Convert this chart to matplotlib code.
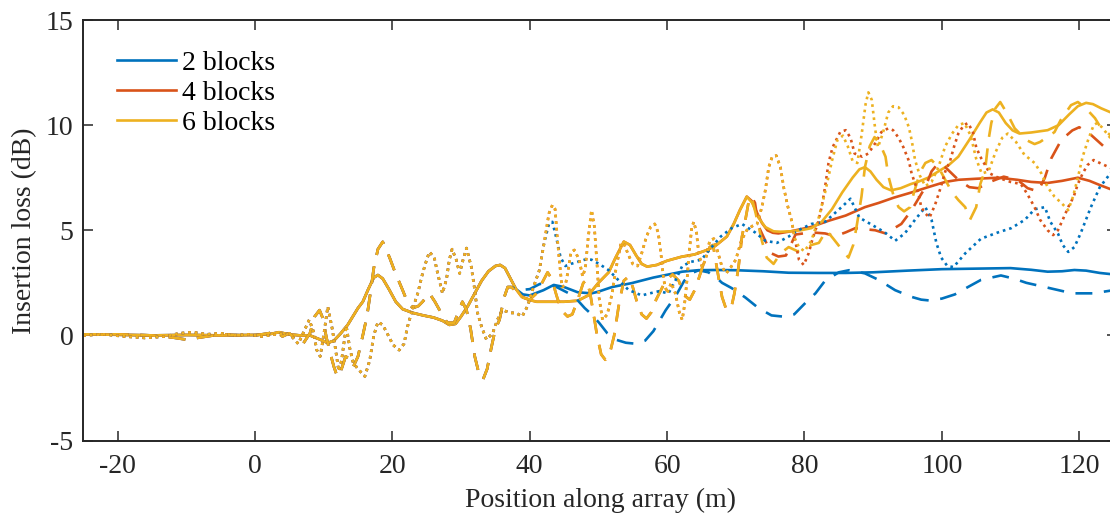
import matplotlib
matplotlib.use('Agg')
import matplotlib.pyplot as plt

# ---- Data ----
# Colours = number of blocks, line style = separate series.
# Curves are identical before the blocks start, so each style has a shared
# start section, then per-colour tails.

# solid, shared by all three
solid_base_x = [-25, -20, -15, -10, -5, 0, 2, 3.5, 5, 6.5, 8, 9.5, 10.6, 11.5, 12.5, 13.5,
                15, 15.7, 16.5, 17.3, 17.9, 18.6, 19.5, 20.5, 21.5, 23, 24.5, 26, 27.3,
                28.3, 29.2, 30, 31, 32, 33, 34, 35, 35.7, 36.4]
solid_base_y = [0.05, 0.03, 0.0, 0.02, 0.0, 0.02, 0.05, 0.15, 0.05, 0.0, 0.0, -0.2, -0.36,
                -0.25, 0.1, 0.5, 1.3, 1.6, 2.2, 2.75, 2.87, 2.7, 2.2, 1.6, 1.25, 1.07, 0.95,
                0.85, 0.7, 0.5, 0.55, 0.9, 1.4, 2.0, 2.6, 3.05, 3.3, 3.35, 3.2]
solid_blue_x = [37.2, 38, 39, 40, 42, 43.5, 45, 47, 49, 50, 52, 54.9, 58, 62.2, 64.5, 67.1,
                70, 74, 77.7, 82, 86, 90, 95, 100, 106, 110, 113, 115.4, 117.5, 119.3, 121,
                123, 125]
solid_blue_y = [2.7, 2.2, 1.95, 1.9, 2.15, 2.4, 2.3, 2.05, 2.0, 2.08, 2.3, 2.49, 2.75, 3.03,
                3.1, 3.11, 3.1, 3.05, 2.98, 2.97, 2.97, 3.0, 3.08, 3.15, 3.18, 3.2, 3.12,
                3.03, 3.05, 3.11, 3.08, 2.97, 2.9]
solid_oy_x = [37.2, 38, 38.8, 39.9, 41, 43, 45, 47, 48.5, 50, 51.5, 52.5, 53.7, 54.6, 55.5,
              56.3, 57.1, 58.5, 60, 62.1, 64, 65.8, 67, 68.7, 69.7, 70.6, 71.6]
solid_oy_y = [2.7, 2.2, 1.85, 1.69, 1.6, 1.6, 1.6, 1.65, 1.9, 2.5, 3.0, 3.7, 4.46, 4.3, 3.8,
              3.4, 3.27, 3.35, 3.55, 3.74, 3.85, 4.06, 4.25, 4.7, 5.3, 5.96, 6.6]
solid_orange_x = [72.3, 73, 73.8, 74.6, 75.4, 76.2, 78, 81, 83.5, 86, 88.8, 90.8, 93, 95.6,
                  98, 100.5, 102.4, 105, 108.2, 111, 113, 115.4, 117.5, 119.8, 121.5, 123, 125]
solid_orange_y = [6.4, 5.9, 5.35, 5.0, 4.88, 4.85, 4.95, 5.16, 5.45, 5.7, 6.1, 6.3, 6.55, 6.8,
                  7.05, 7.3, 7.4, 7.45, 7.5, 7.4, 7.3, 7.25, 7.35, 7.5, 7.35, 7.15, 6.9]
solid_yellow_x = [72.4, 73.3, 74.3, 75.5, 76.5, 78, 79.5, 81, 82.5, 84, 85.5, 87, 88, 88.8,
                  89.6, 90.5, 91.5, 92.6, 94, 95.5, 96.5, 98, 99.5, 101, 102.4, 104, 105.5,
                  106.5, 107.4, 108.3, 109.3, 110.3, 111.3, 113, 115.4, 117, 118.5, 119.8,
                  121, 122, 123.2, 125]
solid_yellow_y = [6.3, 5.6, 5.15, 4.95, 4.93, 4.95, 5.0, 5.1, 5.4, 6.0, 6.8, 7.5, 7.9, 8.0,
                  7.8, 7.4, 7.05, 6.9, 7.0, 7.2, 7.3, 7.5, 7.8, 8.1, 8.5, 9.3, 10.1, 10.6,
                  10.75, 10.6, 10.1, 9.75, 9.6, 9.65, 9.76, 10.0, 10.5, 10.9, 11.06, 11.0,
                  10.8, 10.55]

# dashed, shared by all three
dash_base_x = [-25, -20, -15, -12, -10, -8, -5, -2, 0, 2, 3, 4, 5, 6, 7, 8, 8.7, 9.4, 9.9,
               10.4, 11, 11.5, 12, 12.6, 13.2, 13.7, 14.3, 15, 15.7, 16.3, 16.8, 17.3, 17.9,
               18.6, 19.6, 20.4, 21.5, 22.3, 23, 23.8, 24.4, 25.4, 26.2, 27.1, 28, 29, 29.6,
               30.2, 30.8, 31.4, 32, 32.6, 33.2, 33.8, 34.4, 35, 35.6, 36.3, 36.8]
dash_base_y = [0.05, 0.05, 0.0, -0.1, -0.2, -0.1, 0.05, 0.0, 0.0, 0.1, 0.2, -0.05, 0.1, -0.2,
               -0.4, 0.1, 0.9, 1.2, 0.8, -0.1, -0.9, -1.5, -1.97, -1.6, -1.0, -1.1, -1.5,
               -1.0, 0.0, 0.9, 2.0, 3.2, 4.1, 4.45, 3.7, 3.0, 2.15, 1.5, 1.3, 1.4, 1.6, 2.0,
               1.6, 1.07, 0.6, 0.6, 1.1, 1.6, 1.2, 0.3, -1.0, -1.8, -2.1, -1.6, -0.6, 0.3,
               0.74, 1.83, 2.3]
dash_blue_x = [37.3, 38.5, 40, 41.5, 43.3, 44.5, 45.7, 46.9, 48, 49, 50.1, 51.3, 52.5, 54,
               55.5, 56.8, 58, 59.8, 61.3, 62.5, 63.5, 64.6, 66, 67, 68, 69.4, 71.4, 73.3,
               75.2, 77.3, 78.5, 80, 81.6, 83, 85, 86.5, 88.8, 90.8, 93.2, 95.6, 97, 98.2,
               100, 101.9, 103.8, 105.7, 108.6, 110.5, 112.3, 115, 117, 119, 122, 125]
dash_blue_y = [2.3, 2.15, 2.2, 2.45, 2.4, 2.2, 2.0, 1.7, 1.3, 1.0, 0.6, 0.1, -0.2, -0.35,
               -0.4, -0.25, 0.2, 1.2, 1.9, 2.6, 2.95, 3.1, 3.0, 2.8, 2.5, 2.25, 1.8, 1.3,
               0.95, 0.88, 1.0, 1.5, 2.0, 2.6, 3.0, 3.1, 2.95, 2.64, 2.15, 1.83, 1.7, 1.66,
               1.75, 1.95, 2.3, 2.64, 2.85, 2.7, 2.5, 2.3, 2.15, 2.0, 2.0, 2.15]
dash_oy_x = [37.3, 38, 39, 40, 41, 41.8, 42.6, 43.2, 43.9, 44.6, 45.5, 46.2, 47, 47.8, 48.3,
             48.8, 49.3, 49.8, 50.4, 51, 51.7, 52.3, 53, 53.7, 54.4, 55, 55.6, 56.3, 57,
             57.7, 58.4, 59.8, 60.8, 61.7, 62.5, 63.3, 64.1, 64.8, 65.5, 66.2, 66.7, 67.2,
             68, 68.6, 69.3, 69.8, 70.4, 70.9, 71.4, 71.9, 72.3]
dash_oy_y = [2.3, 2.1, 1.8, 1.7, 2.0, 2.5, 3.0, 2.7, 1.9, 1.2, 0.9, 1.0, 1.7, 2.5, 2.64, 2.0,
             1.0, 0.0, -0.9, -1.16, -0.8, 0.0, 1.5, 2.6, 2.8, 2.3, 1.6, 1.0, 0.8, 1.1, 1.7,
             2.6, 2.9, 2.6, 1.9, 1.7, 2.2, 2.9, 3.6, 4.2, 4.3, 3.3, 1.83, 1.25, 1.25, 2.0,
             3.25, 4.7, 5.5, 6.4, 6.6]
dash_orange_x = [72.8, 73.3, 74.3, 75.2, 76.2, 77.3, 78, 78.7, 81, 83, 84.5, 86, 87.4, 90.3,
                 91.8, 94.1, 95.6, 97.6, 98.5, 99.5, 100.5, 102.4, 104, 105.3, 107, 109, 111,
                 112.5, 114, 115, 115.9, 117.4, 119, 120, 121.5, 123.7, 125]
dash_orange_y = [6.3, 5.2, 4.5, 3.9, 3.75, 3.8, 4.3, 4.8, 4.9, 4.85, 4.72, 4.9, 5.1, 5.0,
                 4.85, 5.3, 5.96, 7.05, 7.8, 8.2, 8.0, 7.4, 7.05, 7.0, 7.3, 7.55, 7.4, 7.0,
                 6.85, 7.5, 8.4, 9.3, 9.75, 9.9, 9.6, 8.95, 8.7]
dash_yellow_x = [72.9, 73.8, 74.5, 75.5, 76.5, 77.7, 79, 80, 81, 82.1, 83.2, 84.2, 85.4, 86.4,
                 87.1, 87.6, 88.3, 88.8, 89.5, 90.2, 91, 91.8, 92.2, 93, 93.7, 94.5, 95.4,
                 95.9, 96.5, 97, 97.6, 98.5, 99.5, 100.5, 101.5, 102.4, 103.4, 104.1, 105,
                 105.6, 106.3, 106.8, 107.2, 107.8, 108.5, 109.6, 110.6, 112.3, 113.5, 114.3,
                 116.4, 117.3, 118.8, 119.8, 120.8, 122.3, 123.1, 125]
dash_yellow_y = [5.8, 4.5, 3.7, 3.4, 3.9, 4.2, 4.0, 4.06, 4.3, 4.4, 5.0, 4.6, 4.1, 3.7, 4.3,
                 5.2, 6.6, 8.0, 9.0, 9.43, 9.1, 8.5, 7.6, 6.6, 6.1, 5.9, 6.1, 6.75, 7.4, 7.86,
                 8.2, 8.34, 8.0, 7.4, 6.8, 6.44, 6.1, 5.5, 6.1, 7.2, 7.86, 9.3, 10.1, 10.8,
                 11.1, 10.5, 9.85, 9.29, 9.1, 9.2, 9.67, 10.24, 10.95, 11.1, 10.86, 10.33,
                 9.9, 9.4]

# dotted, shared by all three
dot_base_x = [-25, -22, -19, -16, -13, -11, -9, -7, -5, -3, -1, 1, 3, 4.5, 5.5, 6.3, 7, 7.9,
              8.5, 9, 9.5, 10, 10.6, 11.2, 11.7, 12.2, 12.6, 13.3, 13.8, 14.3, 15, 16, 16.7,
              17.3, 17.9, 18.6, 19.4, 20.1, 21, 21.7, 22.2, 22.9, 23.7, 24.4, 25, 25.4, 26.1,
              26.6, 27.3, 27.9, 28.3, 28.7, 29.3, 29.8, 30.3, 30.8, 31.5, 32, 32.4, 33, 33.7,
              34.6, 35.3, 36, 37.3, 38, 38.9, 39.7, 40.4, 41.4]
dot_base_y = [0.0, 0.05, -0.05, -0.12, -0.05, 0.1, 0.15, 0.05, 0.1, 0.0, 0.05, -0.05, 0.05,
              0.1, -0.1, -0.4, 0.1, 0.74, 0.2, -0.7, -1.0, 0.0, 1.37, 0.4, -0.6, -1.7, -1.2,
              0.45, -0.6, -1.3, -1.6, -1.95, -1.2, 0.0, 0.64, 0.5, 0.0, -0.45, -0.7, -0.4,
              0.4, 1.2, 2.0, 2.95, 3.6, 3.97, 3.7, 2.95, 2.0, 2.7, 3.6, 4.1, 3.6, 2.95, 3.6,
              4.15, 3.25, 2.15, 1.07, 0.4, -0.2, 0.1, 0.74, 1.2, 1.07, 1.07, 0.9, 1.4, 2.15,
              3.1]
dot_blue_x = [42.1, 42.8, 43.3, 43.9, 44.5, 45.2, 46, 47, 48, 49, 50.1, 51.5, 53, 54.4, 56.3,
              57.5, 58.8, 60.2, 61.2, 62.2, 63.5, 65, 66.5, 67.8, 69.4, 70.9, 72.8, 74.3, 76,
              77.7, 79.1, 81, 83, 85.4, 86.7, 88, 89.6, 91.7, 93.2, 94.6, 96.1, 97.6, 98.5,
              99.2, 99.9, 100.8, 101.7, 103.4, 105.7, 108.2, 110.1, 112.1, 113.5, 115, 115.8,
              116.9, 117.6, 118.4, 119.3, 120.2, 121.7, 123, 125]
dot_blue_y = [4.4, 5.3, 5.4, 4.6, 3.7, 3.3, 3.4, 3.5, 3.6, 3.6, 3.4, 3.1, 2.6, 2.16, 1.9, 2.0,
              2.1, 2.0, 2.6, 3.3, 3.5, 3.6, 4.2, 4.7, 5.1, 5.3, 4.9, 4.5, 4.4, 4.7, 5.0, 5.3,
              5.4, 6.1, 6.5, 5.6, 5.3, 4.9, 4.5, 4.85, 5.5, 6.1, 5.5, 4.4, 3.7, 3.3, 3.25,
              3.9, 4.6, 4.9, 5.1, 5.5, 6.0, 6.1, 5.4, 4.85, 4.3, 3.97, 4.2, 4.85, 6.1, 7.05,
              7.9]
dot_oy_x = [42.1, 42.8, 43.3, 43.7, 44, 44.3, 44.7, 45.2, 45.6, 46, 46.5, 47.2, 47.7, 48.1,
            48.5, 49, 49.4, 49.8, 50.1, 50.6, 51.3, 52, 52.6, 53.3, 53.8, 54.4, 55, 55.7,
            56.3, 57, 57.6, 58.2, 58.7, 59.1, 59.5, 60, 60.6, 61.2, 61.8, 62.2, 62.5, 62.9,
            63.2, 63.6, 63.9, 64.3, 64.6, 65.1, 65.6, 66.2, 66.8, 67.3, 68, 68.6, 69.3, 70,
            70.8, 71.6, 72.4, 73.1, 73.8, 74.3, 74.8, 75.3, 75.9, 76.5, 77, 77.6, 78.1, 78.6]
dot_oy_y = [4.4, 5.8, 6.2, 6.0, 4.7, 3.6, 2.3, 2.4, 3.1, 3.95, 4.06, 3.6, 2.8, 3.2, 4.6,
            5.96, 5.2, 3.4, 1.8, 0.74, 1.0, 2.0, 3.25, 4.4, 4.3, 3.8, 3.4, 3.3, 3.9, 4.7,
            5.16, 5.3, 4.9, 3.9, 2.64, 2.0, 2.5, 2.0, 1.07, 0.74, 1.35, 2.64, 3.9, 5.16, 5.4,
            4.85, 3.9, 3.25, 3.6, 4.5, 4.6, 4.06, 3.25, 2.95, 3.25, 3.6, 4.5, 5.0, 5.2, 5.3,
            6.1, 6.9, 8.0, 8.5, 8.55, 8.0, 7.0, 6.1, 5.5, 4.6]
dot_orange_x = [79.2, 79.9, 80.6, 81.1, 82, 82.5, 83, 83.5, 84.1, 85.2, 86, 86.7, 87.3, 88.4,
                89.3, 90.3, 91.2, 92.2, 92.9, 93.7, 94.4, 95.2, 95.6, 96.6, 97, 97.6, 98.2,
                99, 99.8, 100.5, 101.2, 101.8, 102.4, 103.2, 103.8, 104.5, 105, 105.6, 107,
                108.2, 110, 111.5, 112.4, 113.5, 114.3, 115.4, 116.2, 116.9, 117.6, 118.4,
                119.2, 119.8, 120.5, 121.2, 122.1, 123, 125]
dot_orange_y = [3.6, 3.35, 3.9, 4.5, 5.4, 6.1, 7.05, 8.2, 8.95, 9.67, 9.76, 9.4, 8.65, 8.5,
                8.65, 9.14, 9.67, 9.85, 9.76, 9.4, 8.95, 8.3, 7.7, 6.75, 6.1, 5.8, 5.6, 6.2,
                7.0, 7.8, 8.3, 9.0, 9.6, 10.0, 10.1, 9.7, 8.95, 8.5, 7.7, 7.5, 7.3, 7.2, 6.75,
                6.1, 5.5, 5.0, 4.77, 5.0, 5.5, 6.1, 6.6, 7.2, 7.7, 8.1, 8.34, 8.2, 7.9]
dot_yellow_x = [79.2, 80, 81, 82, 83, 84, 84.8, 85.6, 86.3, 87, 87.7, 88.3, 88.9, 89.3, 89.8,
                90.3, 90.7, 91.4, 92.2, 92.9, 93.7, 94.5, 95.2, 95.6, 96.1, 96.8, 97.6, 98.5,
                99.5, 100.5, 101.5, 102.4, 103.3, 104.2, 105, 105.8, 106.8, 107.8, 108.8,
                109.6, 110.8, 112, 113.5, 114.5, 115.4, 116.4, 117.4, 118.4, 119.1, 119.8,
                120.5, 121.3, 122.1, 122.6, 123.3, 125]
dot_yellow_y = [4.2, 4.0, 4.5, 5.5, 6.8, 8.3, 9.3, 9.5, 9.0, 8.3, 8.2, 9.5, 11.0, 11.56, 11.2,
                9.8, 8.95, 9.6, 10.6, 10.9, 10.85, 10.5, 9.9, 9.3, 8.34, 7.6, 7.1, 7.3, 8.0,
                9.0, 9.6, 10.0, 10.1, 9.5, 8.4, 7.7, 7.8, 8.7, 9.4, 9.6, 9.2, 8.6, 8.2, 7.7,
                7.05, 6.6, 6.3, 5.96, 6.6, 7.5, 8.5, 9.3, 10.0, 10.1, 9.9, 9.2]

labels = ['2 blocks', '4 blocks', '6 blocks']
colors = ['#0072BD', '#D95319', '#EDB120']

# ---- Assemble full series ----
solid = [
    (solid_base_x + solid_blue_x, solid_base_y + solid_blue_y),
    (solid_base_x + solid_oy_x + solid_orange_x, solid_base_y + solid_oy_y + solid_orange_y),
    (solid_base_x + solid_oy_x + solid_yellow_x, solid_base_y + solid_oy_y + solid_yellow_y),
]
dashed = [
    (dash_base_x + dash_blue_x, dash_base_y + dash_blue_y),
    (dash_base_x + dash_oy_x + dash_orange_x, dash_base_y + dash_oy_y + dash_orange_y),
    (dash_base_x + dash_oy_x + dash_yellow_x, dash_base_y + dash_oy_y + dash_yellow_y),
]
dotted = [
    (dot_base_x + dot_blue_x, dot_base_y + dot_blue_y),
    (dot_base_x + dot_oy_x + dot_orange_x, dot_base_y + dot_oy_y + dot_orange_y),
    (dot_base_x + dot_oy_x + dot_yellow_x, dot_base_y + dot_oy_y + dot_yellow_y),
]

# ---- Plot ----
plt.rcParams['font.family'] = ['Liberation Serif', 'DejaVu Serif']
plt.rcParams['axes.unicode_minus'] = False

fig = plt.figure(figsize=(11.1, 5.16), dpi=100)
# right edge sits just past the image border, like the reference
ax = fig.add_axes([0.075, 0.1463, 0.9313, 0.8149])

lw = 1.9
for (x, y), c, lab in zip(solid, colors, labels):
    ax.plot(x, y, color=c, lw=lw, label=lab, solid_joinstyle='round')
for (x, y), c in zip(dashed, colors):
    ax.plot(x, y, color=c, lw=lw, linestyle=(0, (6.4, 4.4)))
for (x, y), c in zip(dotted, colors):
    ax.plot(x, y, color=c, lw=lw, linestyle=(0, (1.0, 1.5)))

ax.set_xlim(-25, 125.5)
ax.set_ylim(-5, 15)
ax.set_xticks([-20, 0, 20, 40, 60, 80, 100, 120])
ax.set_yticks([-5, 0, 5, 10, 15])
ax.set_xlabel('Position along array (m)', fontsize=20, color='#262626', labelpad=6)
ax.set_ylabel('Insertion loss (dB)', fontsize=20, color='#262626', labelpad=6)

ax.tick_params(direction='in', length=7.2, width=1.1, top=True, right=True,
               labelsize=20, colors='#262626')
ax.tick_params(axis='x', pad=10)
ax.tick_params(axis='y', pad=7)
for s in ax.spines.values():
    s.set_linewidth(1.4)
    s.set_color('#262626')
# the right border falls outside the picture in the reference
ax.spines['right'].set_visible(False)

ax.legend(loc='upper left', bbox_to_anchor=(0.0326, 0.927), frameon=False, fontsize=20,
          handlelength=2.12, handletextpad=0.22, labelspacing=0.16, borderpad=0,
          borderaxespad=0)

fig.savefig('out.png', dpi=100)
plt.close(fig)
